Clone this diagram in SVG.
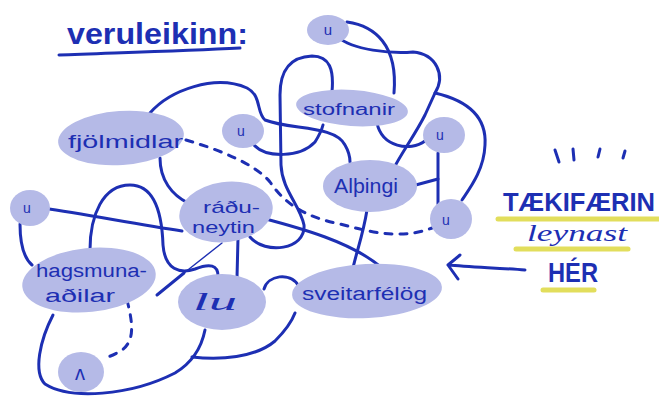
<svg xmlns="http://www.w3.org/2000/svg" width="659" height="399" viewBox="0 0 659 399">
<style>
.ln{fill:none;stroke:#1d2fb3;stroke-width:3;stroke-linecap:round;stroke-linejoin:round}
.thin{stroke-width:1.4}
.dash{stroke-dasharray:7 8}
.nd{fill:#b5bae7}
.t{fill:#1d2fb3;font-family:"Liberation Sans",Arial,sans-serif}
.hl{stroke:#e2de5c;stroke-width:5;stroke-linecap:round;fill:none}
</style>
<rect width="659" height="399" fill="#ffffff"/>
<g id="title">
<text class="t" x="67" y="44" font-size="30" font-weight="bold" textLength="181" lengthAdjust="spacingAndGlyphs">veruleikinn:</text>
<path class="ln" d="M59,55 C110,53 180,51 240,48" stroke-width="5"/>
</g>
<g id="connectors">
<path class="ln" d="M150,113 C170,90 215,74 247,88 C262,96 256,112 265,120 C290,130 335,125 345,145 C349,152 350,158 350,162"/>
<path class="ln dash" d="M186,140 C220,150 255,164 270,182 C285,204 305,217 340,224 C370,232 400,240 432,228"/>
<path class="ln" d="M160,158 C160,180 172,195 188,203"/>
<path class="ln" d="M347,22 C375,26 398,45 394,93"/>
<path class="ln" d="M338,37 C352,50 392,54 413,52 C436,54 446,75 435,93 L425,115 C415,135 400,155 393,170"/>
<path class="ln" d="M435,93 C465,100 487,115 485,145 C484,170 470,188 462,200"/>
<path class="ln" d="M377,123 C382,147 410,152 425,141"/>
<path class="ln" d="M438,153 L438,204"/>
<path class="ln" d="M412,186 L438,179"/>
<path class="ln" d="M332,92 C334,70 330,56 312,56 C290,57 280,70 280,95 L281,165 C282,190 300,205 304,225 C306,250 265,255 250,237"/>
<path class="ln" d="M254,145 C266,158 300,158 315,142 C320,134 322,129 323,125"/>
<path class="ln" d="M262,218 C300,228 352,242 382,268"/>
<path class="ln" d="M367,210 C363,235 357,250 353,268"/>
<path class="ln" d="M43,208 C90,215 140,225 182,231"/>
<path class="ln" d="M20,224 C20,245 24,258 32,265"/>
<path class="ln" d="M90,250 C90,215 103,185 130,185 C155,185 162,215 163,245 C165,270 180,274 195,269 C210,263 218,265 218,276"/>
<path class="ln" d="M157,295 L184,273"/>
<path class="ln thin" d="M184,273 L222,243"/>
<path class="ln" d="M238,238 L237,278"/>
<path class="ln" d="M264,289 C268,275 290,272 298,285"/>
<path class="ln" d="M53,315 C40,340 33,372 45,384 C70,400 130,396 175,373 C195,361 202,345 205,330"/>
<path class="ln" d="M192,357 C220,360 255,358 275,341 C285,331 292,321 295,313"/>
<path class="ln dash" d="M127,300 C132,320 136,340 122,350 C114,355 109,357 103,358"/>
</g>
<g id="n-top-u"><ellipse class="nd" cx="328" cy="30" rx="21" ry="15"/><text class="t" x="328" y="35" font-size="15" text-anchor="middle">u</text></g>
<g id="n-stofnanir"><ellipse class="nd" cx="352" cy="108" rx="56" ry="18" transform="rotate(4 352 108)"/><text class="t" x="303" y="115" font-size="16" textLength="92" lengthAdjust="spacingAndGlyphs">stofnanir</text></g>
<g id="n-fjolmidlar"><ellipse class="nd" cx="121" cy="138" rx="63" ry="27" transform="rotate(-4 121 138)"/><text class="t" x="68" y="148" font-size="19" textLength="115" lengthAdjust="spacingAndGlyphs">fjölmidlar</text></g>
<g id="n-u-left"><ellipse class="nd" cx="243" cy="131" rx="21" ry="17"/><text class="t" x="241" y="136" font-size="14" text-anchor="middle">u</text></g>
<g id="n-u-right"><ellipse class="nd" cx="444" cy="135" rx="21" ry="18"/><text class="t" x="440" y="140" font-size="14" text-anchor="middle">u</text></g>
<g id="n-althingi"><ellipse class="nd" cx="370" cy="186" rx="47" ry="26"/><text class="t" x="334" y="193" font-size="21" textLength="64" lengthAdjust="spacingAndGlyphs">Alþingi</text></g>
<g id="n-u-right-low"><ellipse class="nd" cx="451" cy="219" rx="21" ry="20"/><text class="t" x="446" y="225" font-size="14" text-anchor="middle">u</text></g>
<g id="n-raduneytin"><ellipse class="nd" cx="226" cy="212" rx="47" ry="30" transform="rotate(-8 226 212)"/><text class="t" x="203" y="213" font-size="17" textLength="57" lengthAdjust="spacingAndGlyphs">ráðu-</text><text class="t" x="192" y="233" font-size="17" textLength="63" lengthAdjust="spacingAndGlyphs">neytin</text></g>
<g id="n-u-farleft"><ellipse class="nd" cx="30" cy="208" rx="20" ry="18"/><text class="t" x="27" y="213" font-size="14" text-anchor="middle">u</text></g>
<g id="n-hagsmuna"><ellipse class="nd" cx="89" cy="280" rx="67" ry="32" transform="rotate(-6 89 280)"/><text class="t" x="36" y="277" font-size="18" textLength="111" lengthAdjust="spacingAndGlyphs">hagsmuna-</text><text class="t" x="45" y="302" font-size="18" textLength="70" lengthAdjust="spacingAndGlyphs">aðilar</text></g>
<g id="n-lu"><ellipse class="nd" cx="222" cy="302" rx="44" ry="28"/><text class="t" x="193" y="310" font-size="26" font-style="italic" style="font-family:'Liberation Serif',serif" textLength="44" lengthAdjust="spacingAndGlyphs">lu</text></g>
<g id="n-sveitarfelog"><ellipse class="nd" cx="367" cy="291" rx="75" ry="27" transform="rotate(-3 367 291)"/><text class="t" x="302" y="300" font-size="18" textLength="125" lengthAdjust="spacingAndGlyphs">sveitarfélög</text></g>
<g id="n-small"><ellipse class="nd" cx="81" cy="372" rx="23" ry="20"/><text class="t" x="80" y="380" font-size="20" text-anchor="middle">ʌ</text></g>
<g id="callout">
<path class="ln" d="M555,150 L559,162 M573,149 L574,160 M600,149 L598,157 M625,151 L623,158" stroke-width="3.5"/>
<path class="hl" d="M498,219 L659,219"/>
<path class="hl" d="M516,249 L628,249"/>
<path class="hl" d="M543,290 L594,290"/>
<text class="t" x="503" y="211" font-size="25" font-weight="bold" textLength="152" lengthAdjust="spacingAndGlyphs">TÆKIFÆRIN</text>
<text class="t" x="527" y="241" font-size="24" font-style="italic" style="font-family:'Liberation Serif',serif" textLength="100" lengthAdjust="spacingAndGlyphs">leynast</text>
<text class="t" x="548" y="282" font-size="28" font-weight="bold" textLength="50" lengthAdjust="spacingAndGlyphs">HÉR</text>
<path class="ln" d="M525,270 C500,268 470,267 448,265 M460,255 L448,265 L458,279" stroke-width="4"/>
</g>
</svg>
